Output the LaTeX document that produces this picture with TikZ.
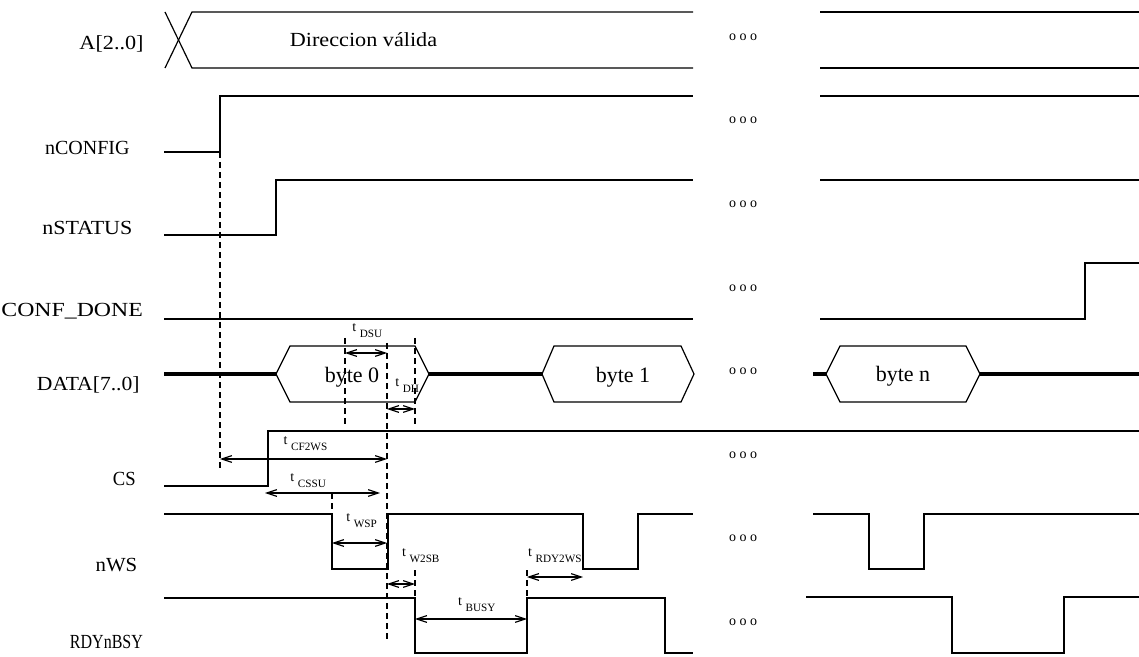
\documentclass[tikz,border=0pt]{standalone}
\usepackage{fontspec}
\usepackage{graphicx}
\setmainfont{Liberation Serif}
\usetikzlibrary{arrows.meta}

% subscripted timing label: t_{#1}
\newcommand{\tsub}[1]{{\fontsize{7}{8}\selectfont t}\hspace{1.8pt}\raisebox{-3pt}{#1}}

\begin{document}
\begin{tikzpicture}[x=0.5pt,y=-0.5pt,
  sig/.style={line width=0.6pt,line join=miter},
  bus/.style={line width=1.6pt},
  guide/.style={line width=0.6pt,dash pattern=on 3pt off 2pt},
  span/.style={line width=0.6pt,
    {Straight Barb[length=5pt,width=3.4pt]}-{Straight Barb[length=5pt,width=3.4pt]}},
  sname/.style={anchor=base east,inner sep=0pt,font=\fontsize{10}{12}\selectfont},
  tlab/.style={anchor=base west,inner sep=0pt,font=\fontsize{5.6}{6}\selectfont},
  dots/.style={inner sep=0pt,font=\fontsize{7}{8}\selectfont},
  bytelab/.style={anchor=base,inner sep=0pt,font=\fontsize{11}{12}\selectfont}]

\useasboundingbox (0,0) rectangle (1139,657);

% ---------- signal names ----------
\node[sname] (nA)    at (144,50)    {\scalebox{1.11}[1]{A[2..0]}};
\node[sname] (nCfg)  at (130,155)   {nCONFIG};
\node[sname] (nSt)   at (132.7,235) {\scalebox{1.10}[1]{nSTATUS}};
\node[sname] (nDone) at (143.3,316.7) {\scalebox{1.19}[1]{CONF\_DONE}};
\node[sname] (nData) at (140,390)   {\scalebox{1.08}[1]{DATA[7..0]}};
\node[sname] (nCS)   at (136,485)   {\scalebox{0.93}[1]{CS}};
\node[sname] (nWS)   at (137.7,571.7) {\scalebox{1.04}[1]{nWS}};
\node[sname] (nRdy)  at (143.3,648) {\scalebox{0.80}[1]{RDYnBSY}};

% ---------- A[2..0] ----------
\draw[sig] (165,12) -- (192,68) -- (693,68);
\draw[sig] (165,68) -- (192,12) -- (693,12);
\draw[sig] (820,12) -- (1139,12);
\draw[sig] (820,68) -- (1139,68);
\node[anchor=base,inner sep=0pt,font=\fontsize{10}{12}\selectfont] (addr) at (363.5,46.7)
  {\scalebox{1.11}[1]{Direccion válida}};

% ---------- nCONFIG ----------
\draw[sig] (164,152) -- (220,152) -- (220,96) -- (693,96);
\draw[sig] (820,96) -- (1139,96);

% ---------- nSTATUS ----------
\draw[sig] (164,235) -- (276,235) -- (276,180) -- (693,180);
\draw[sig] (820,180) -- (1139,180);

% ---------- CONF_DONE ----------
\draw[sig] (164,319) -- (693,319);
\draw[sig] (820,319) -- (1085,319) -- (1085,263) -- (1139,263);

% ---------- DATA[7..0] ----------
\draw[bus] (164,374) -- (276,374);
\draw[sig] (276,374) -- (290,346) -- (415,346) -- (429,374) -- (415,402) -- (290,402) -- cycle;
\draw[bus] (429,374) -- (542,374);
\draw[sig] (542,374) -- (554,346) -- (681,346) -- (694,374) -- (681,402) -- (554,402) -- cycle;
\draw[bus] (813,374) -- (826,374);
\draw[sig] (826,374) -- (840,346) -- (966,346) -- (980,374) -- (966,402) -- (840,402) -- cycle;
\draw[bus] (980,374) -- (1139,374);
\node[bytelab] (b0) at (352,382.7) {byte 0};
\node[bytelab] (b1) at (623,382.7) {byte 1};
\node[bytelab] (bn) at (903,381.7) {byte n};

% ---------- CS ----------
\draw[sig] (164,486) -- (268,486) -- (268,431) -- (1139,431);

% ---------- nWS ----------
\draw[sig] (164,514) -- (332,514) -- (332,569) -- (388,569) -- (388,514)
  -- (583,514) -- (583,569) -- (638,569) -- (638,514) -- (693,514);
\draw[sig] (813,514) -- (869,514) -- (869,569) -- (924,569) -- (924,514) -- (1139,514);

% ---------- RDYnBSY ----------
\draw[sig] (164,598) -- (415,598) -- (415,653) -- (527,653) -- (527,598)
  -- (665,598) -- (665,653) -- (693,653);
\draw[sig] (806,597) -- (952,597) -- (952,653) -- (1064,653) -- (1064,597) -- (1139,597);

% ---------- continuation marks ----------
\foreach \y [count=\i] in {37,120.6,204,288,371,455,538.6,622}
  \node[dots] (gap\i) at (743,\y) {o o o};

% ---------- timing instants ----------
\coordinate (tCfg)   at (220,152);
\coordinate (tCfgB)  at (220,468);
\coordinate (tSuA)   at (345,338);
\coordinate (tSuB)   at (345,425);
\coordinate (tWrA)   at (387,343);
\coordinate (tWrB)   at (387,640);
\coordinate (tHdA)   at (415,338);
\coordinate (tHdB)   at (415,425);
\coordinate (tWfA)   at (332,493);
\coordinate (tWfB)   at (332,514);
\coordinate (tBfA)   at (415,570);
\coordinate (tBfB)   at (415,598);
\coordinate (tBrA)   at (527,570);
\coordinate (tBrB)   at (527,598);

\draw[guide] (tCfg) -- (tCfgB);
\draw[guide] (tSuA) -- (tSuB);
\draw[guide] (tWrA) -- (tWrB);
\draw[guide] (tHdA) -- (tHdB);
\draw[guide] (tWfA) -- (tWfB);
\draw[guide] (tBfA) -- (tBfB);
\draw[guide] (tBrA) -- (tBrB);

% ---------- timing spans ----------
\coordinate (dsuL) at (345,353);  \coordinate (dsuR) at (387,353);
\coordinate (dhL)  at (387,409);  \coordinate (dhR)  at (415,409);
\coordinate (cfL)  at (220,459);  \coordinate (cfR)  at (387,459);
\coordinate (cssL) at (265,493);  \coordinate (cssR) at (380,493);
\coordinate (wspL) at (332,543);  \coordinate (wspR) at (387,543);
\coordinate (wsbL) at (387,584);  \coordinate (wsbR) at (415,584);
\coordinate (bsyL) at (415,619);  \coordinate (bsyR) at (527,619);
\coordinate (rdyL) at (527,577);  \coordinate (rdyR) at (583,577);

\draw[span] (dsuL) -- (dsuR);
\draw[span] (dhL)  -- (dhR);
\draw[span] (cfL)  -- (cfR);
\draw[span] (cssL) -- (cssR);
\draw[span] (wspL) -- (wspR);
\draw[span] (wsbL) -- (wsbR);
\draw[span] (bsyL) -- (bsyR);
\draw[span] (rdyL) -- (rdyR);

\node[tlab] (lDSU)  at (352,331.7)   {\tsub{DSU}};
\node[tlab] (lDH)   at (395,386.7)   {\tsub{DH}};
\node[tlab] (lCF)   at (283.3,444)   {\tsub{CF2WS}};
\node[tlab] (lCSSU) at (290,481)     {\tsub{CSSU}};
\node[tlab] (lWSP)  at (346,521.7)   {\tsub{WSP}};
\node[tlab] (lW2SB) at (401.7,556.7) {\tsub{W2SB}};
\node[tlab] (lBUSY) at (457.7,605.7) {\tsub{BUSY}};
\node[tlab] (lRDY)  at (527.7,556.7) {\tsub{RDY2WS}};

\end{tikzpicture}
\end{document}
